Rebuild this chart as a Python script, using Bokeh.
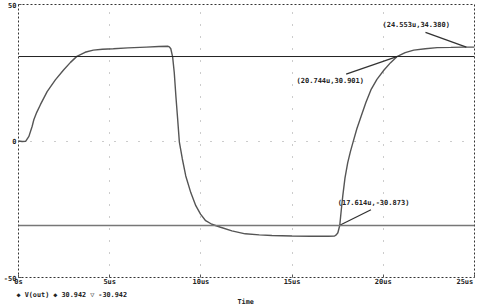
from bokeh.plotting import figure
from bokeh.models import ColumnDataSource, Title, FixedTicker, Span
from bokeh.core.properties import value
from bokeh.embed import file_html
from bokeh.resources import INLINE

# ---- data ----
t_us = [0, 0.2, 0.39, 0.57, 0.75, 0.84, 1.0, 1.2, 1.57, 2.02, 2.47, 2.85, 3.2, 3.65, 4.1, 4.6,
        5.2, 6.0, 7.0, 7.7, 8.18, 8.27, 8.35, 8.45, 8.54, 8.63, 8.72, 8.82, 8.98, 9.17, 9.45,
        9.72, 9.98, 10.26, 10.6, 11.08, 11.7, 12.43, 13.2, 13.89, 15.0, 16.0, 17.0, 17.33,
        17.42, 17.51, 17.614, 17.7, 17.78, 17.9, 18.05, 18.2, 18.33, 18.55, 18.78, 19.05,
        19.32, 19.65, 20.04, 20.4, 20.744, 21.2, 21.67, 22.3, 22.95, 23.7, 24.39, 24.553, 25.0]
v_out = [0, -0.2, -0.1, 1.7, 5.4, 7.8, 10.5, 13.3, 18.1, 22.4, 26.0, 28.8, 31.0, 32.5, 33.3, 33.6,
         33.8, 34.1, 34.4, 34.6, 34.7, 34.5, 33.8, 30.8, 25.0, 16.3, 8.5, -0.4, -6.5, -12.8, -19.0,
         -23.7, -26.8, -29.2, -30.5, -31.6, -32.9, -34.0, -34.4, -34.6, -34.8, -34.9, -34.9, -34.8,
         -34.4, -33.6, -30.873, -25.0, -20.0, -13.5, -7.9, -3.8, -0.7, 4.5, 9.0, 14.2,
         18.7, 22.6, 26.0, 28.7, 30.901, 32.4, 33.3, 33.8, 34.2, 34.3, 34.4, 34.38, 34.4]

cursor_levels = [30.942, -30.942]

marker_t = [24.553, 20.744, 17.614]
marker_v = [34.380, 30.901, -30.873]
marker_text = ["(24.553u,34.380)", "(20.744u,30.901)", "(17.614u,-30.873)"]

x_ticks = [0, 5, 10, 15, 20, 25]
x_tick_labels = ["0s", "5us", "10us", "15us", "20us", "25us\u00a0"]
y_ticks = [-50, 0, 50]
y_tick_labels = ["-50", "0", "50"]

legend_text = "\u25c6 V(out) \u25c6 30.942 \u25bd -30.942"
x_title = "Time"

# ---- style offsets (data units) for cursor annotations ----
lead_dx = [-2.24, -2.78, 1.71]
lead_dy = [5.4, -6.4, 5.7]
lab_dx = [-2.75, -3.65, 1.85]
lab_dy = [8.0, -8.8, 8.2]

FONT = "DejaVu Sans Mono"
TITLE_INDENT = "\u00a0" * 54   # horizontal placement of the x title under the legend line

p = figure(width=477, height=306, output_backend="svg", toolbar_location=None,
           x_range=(0, 25), y_range=(-50, 50),
           min_border_left=14, min_border_right=3, min_border_top=4, min_border_bottom=0,
           background_fill_color="white", border_fill_color="white")

p.outline_line_color = "#333333"
p.outline_line_dash = "2 2"
p.outline_line_width = 1

# axes
p.xaxis.ticker = FixedTicker(ticks=x_ticks)
p.xaxis.major_label_overrides = {t: l for t, l in zip(x_ticks, x_tick_labels)}
p.yaxis.ticker = FixedTicker(ticks=y_ticks)
p.yaxis.major_label_overrides = {t: l for t, l in zip(y_ticks, y_tick_labels)}
for ax in (p.xaxis[0], p.yaxis[0]):
    ax.axis_line_color = None
    ax.major_tick_out = 0
    ax.major_tick_in = 3
    ax.major_tick_line_color = "#555555"
    ax.minor_tick_line_color = None
    ax.major_label_text_font = FONT
    ax.major_label_text_font_size = "7px"
    ax.major_label_text_font_style = "bold"
    ax.major_label_text_color = "#222222"
p.xaxis.major_label_standoff = 0
p.yaxis.major_label_standoff = 2

# legend line and x title in one two-line title below the axis
p.add_layout(Title(text=legend_text + "\n" + TITLE_INDENT + x_title, align="left",
                   offset=-2, standoff=0, padding=0, text_line_height=0.95,
                   text_font=FONT, text_font_size="6.8px", text_font_style="bold",
                   text_color="#222222"), "below")

# grid
p.xgrid.ticker = FixedTicker(ticks=[5, 10, 15, 20])
p.ygrid.ticker = FixedTicker(ticks=[0])
p.grid.grid_line_color = "#999999"
p.grid.grid_line_dash = "1 11"
p.grid.grid_line_width = 1

# cursor lines
p.add_layout(Span(location=cursor_levels[0], dimension="width", line_color="#222222", line_width=1))
p.add_layout(Span(location=cursor_levels[1], dimension="width", line_color="#777777", line_width=1.6))

# curve
p.line(t_us, v_out, line_color="#555555", line_width=1.4)

# cursor annotation leaders and texts
lead_x0 = [t + d for t, d in zip(marker_t, lead_dx)]
lead_y0 = [v + d for v, d in zip(marker_v, lead_dy)]
p.segment(x0=lead_x0, y0=lead_y0, x1=marker_t, y1=marker_v, line_color="#333333", line_width=1.3)
lab_x = [t + d for t, d in zip(marker_t, lab_dx)]
lab_y = [v + d for v, d in zip(marker_v, lab_dy)]
src = ColumnDataSource(dict(x=lab_x, y=lab_y, text=marker_text))
p.text(x="x", y="y", text="text", source=src, text_font=value(FONT), text_font_size="7px",
       text_font_style="bold", text_color="#222222", text_align="center", text_baseline="middle")

open("out.html", "w").write(file_html(p, INLINE))
